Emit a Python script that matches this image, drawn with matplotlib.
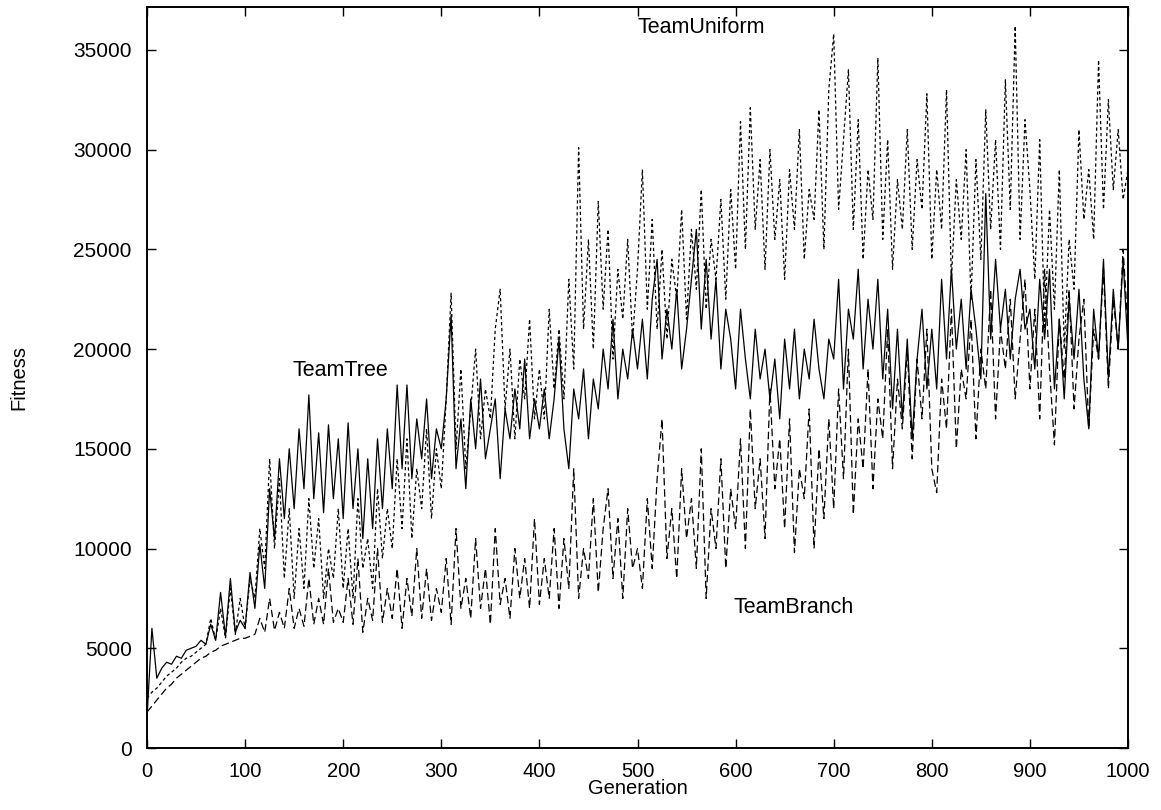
import numpy as np
import matplotlib
matplotlib.use("Agg")
import matplotlib.pyplot as plt

STEP = 5  # generations between stored samples

team_tree = [
    1500, 6000, 3500, 4000, 4300, 4200, 4600, 4500, 4900, 5000, 5100, 5400, 5200, 6200, 5400, 7800, 5600, 8500, 5800, 6400,
    6000, 8800, 7000, 10200, 8000, 13000, 10500, 14500, 11500, 15000, 12000, 16000, 13000, 17700, 12500, 15800, 11800, 16200, 12500, 15500,
    11500, 16300, 12000, 15000, 10500, 14500, 11000, 15500, 12000, 16000, 13000, 18200, 14000, 18200, 13500, 16500, 14500, 17500, 13500, 16000,
    15000, 17500, 21700, 14000, 16500, 13000, 17500, 15000, 18500, 14500, 16000, 17500, 13500, 17000, 15500, 18000, 16000, 19500, 15500, 17500,
    16000, 18000, 15500, 17500, 20500, 16000, 14000, 18000, 16500, 19000, 15500, 18500, 17000, 20000, 18000, 21500, 17500, 20000, 18500, 21000,
    19000, 21500, 18500, 22500, 24500, 19500, 22000, 20000, 23000, 19000, 21000, 23500, 26000, 21000, 24500, 20500, 23500, 19000, 22000, 20500,
    18000, 22000, 19500, 17500, 21000, 18500, 20000, 17500, 19500, 16500, 20500, 18000, 21000, 17500, 20000, 18500, 21500, 19000, 17500, 20500,
    19500, 23500, 18000, 22000, 20500, 24000, 19000, 22500, 20000, 23500, 18500, 22000, 17000, 21000, 16500, 20500, 15500, 19500, 22000, 18000,
    21000, 18000, 23500, 19500, 24000, 20000, 22500, 19000, 23000, 21000, 18500, 27800, 20500, 24500, 21000, 23000, 19500, 22500, 24000, 21000,
    22000, 19000, 23500, 20500, 24000, 18000, 21500, 17500, 22500, 19500, 23000, 18500, 16000, 22000, 19500, 24500, 18500, 23000, 20000, 24500,
    20000,
]

team_uniform = [
    2500, 2800, 3000, 3300, 3600, 3800, 4000, 4300, 4500, 4600, 4800, 5000, 5200, 6500, 5400, 7000, 5500, 8000, 5700, 7500,
    6000, 8500, 7500, 11000, 9000, 14500, 10000, 13500, 8500, 12000, 7500, 11000, 8000, 12500, 9000, 11500, 7500, 10000, 8500, 12000,
    8000, 11000, 7500, 12500, 9000, 10500, 8000, 13000, 9500, 12000, 10000, 14500, 11000, 15500, 10500, 14000, 12000, 16000, 11500, 15000,
    13000, 17500, 22800, 15000, 19000, 14000, 17000, 20000, 15500, 18000, 16500, 21000, 23000, 17000, 20000, 15500, 19500, 17500, 21500, 16500,
    19000, 16500, 22000, 18000, 21000, 17500, 23500, 19000, 30100, 21000, 25500, 20000, 27400, 22000, 26000, 19500, 24000, 21500, 25500, 20500,
    24000, 29000, 22000, 26500, 21000, 25000, 20500, 24500, 22500, 27000, 21500, 26000, 23000, 28000, 22000, 25500, 23500, 27500, 22500, 28000,
    24000, 31400, 25000, 32100, 26000, 29500, 24000, 30000, 25500, 28500, 23500, 29000, 26000, 31000, 24500, 28000, 26500, 32000, 25000, 33000,
    35800, 27000, 30500, 34000, 26000, 31500, 24500, 29000, 26500, 34600, 25500, 30500, 24000, 28500, 26000, 31000, 25000, 29500, 27000, 32800,
    24500, 29000, 26000, 33000, 23500, 28500, 25500, 30000, 22500, 29500, 24500, 32000, 26000, 30500, 25000, 33500, 27000, 36200, 25500, 31500,
    28000, 23500, 30500, 21000, 27000, 22000, 29000, 20000, 25500, 23000, 31000, 26500, 29000, 25500, 34500, 27000, 32500, 28000, 31000, 27500,
    29000,
]

team_branch = [
    1800, 2100, 2400, 2700, 3000, 3200, 3500, 3700, 3900, 4100, 4300, 4500, 4600, 4800, 4900, 5100, 5200, 5300, 5400, 5500,
    5500, 5600, 5700, 6500, 5800, 7500, 5900, 6800, 6000, 8000, 6000, 7000, 6100, 8500, 6200, 7500, 6200, 9000, 6300, 7000,
    6300, 8500, 6200, 9500, 5800, 7500, 6400, 10000, 6300, 8000, 6500, 9000, 6000, 8500, 6600, 10000, 6500, 9000, 6400, 8000,
    6800, 9500, 6200, 11000, 7000, 8500, 6500, 10500, 7000, 9000, 6200, 11000, 7200, 8500, 6500, 10000, 7500, 9500, 7000, 11500,
    7200, 9500, 7500, 11000, 7000, 10500, 8000, 14000, 7500, 10000, 8500, 12500, 7800, 11000, 13000, 8500, 11500, 7500, 12000, 9000,
    10000, 8000, 12500, 9000, 13500, 16500, 9500, 12000, 8500, 14000, 10500, 12500, 9000, 15000, 7500, 12000, 10000, 14500, 9000, 13000,
    11000, 15500, 10000, 17000, 12000, 14500, 10500, 18000, 13000, 15500, 11000, 16500, 9800, 14000, 12500, 17000, 10000, 15000, 11500, 16500,
    12000, 18000, 13500, 20000, 11700, 16500, 14000, 19000, 13000, 17500, 15500, 21000, 14000, 18500, 16000, 20000, 14500, 19500, 16500, 21000,
    14000, 12800, 18500, 16000, 22000, 15000, 19000, 17500, 21500, 15500, 20000, 18000, 23000, 16500, 21000, 19000, 22500, 17500, 20500, 23500,
    18000, 22000, 16500, 24000, 19000, 15200, 21500, 18500, 23000, 17000, 20500, 22500, 16000, 21000, 19500, 24000, 18000, 22500, 20000, 25000,
    21000,
]

x_ticks = [0, 100, 200, 300, 400, 500, 600, 700, 800, 900, 1000]
y_ticks = [0, 5000, 10000, 15000, 20000, 25000, 30000, 35000]

labels = [("TeamUniform", 500, 36100), ("TeamTree", 148, 18950), ("TeamBranch", 598, 7050)]

plt.rcParams['font.family'] = ['Liberation Sans', 'DejaVu Sans']

fig = plt.figure(figsize=(11.61, 8.10), dpi=100)
ax = fig.add_axes([147 / 1161, 1 - 748 / 810, (1128 - 147) / 1161, (748 - 7) / 810])

for series, dashes in ((team_branch, (6, 3)), (team_uniform, (2.6, 2.2)), (team_tree, None)):
    gens = np.arange(len(series)) * STEP
    if dashes is None:
        ax.plot(gens, series, color='black', lw=0.9)
    else:
        ax.plot(gens, series, color='black', lw=0.9, dashes=dashes)

ax.set_xlim(0, 1000)
ax.set_ylim(0, 37150)
ax.set_xticks(x_ticks)
ax.set_yticks(y_ticks)
ax.tick_params(direction='in', length=6.5, width=1.0, top=True, right=True)
ax.tick_params(axis='x', labelsize=14.5, pad=10)
ax.tick_params(axis='y', labelsize=15, pad=11)
for sp in ax.spines.values():
    sp.set_linewidth(1.4)

ax.set_xlabel("Generation", fontsize=14.5, labelpad=-1)
ax.set_ylabel("Fitness", fontsize=14.5)
ax.yaxis.set_label_coords(-0.121, 0.5)

for text, gx, gy in labels:
    ax.text(gx, gy, text, fontsize=15.5, ha='left', va='center')

fig.savefig("out.png", dpi=100)
